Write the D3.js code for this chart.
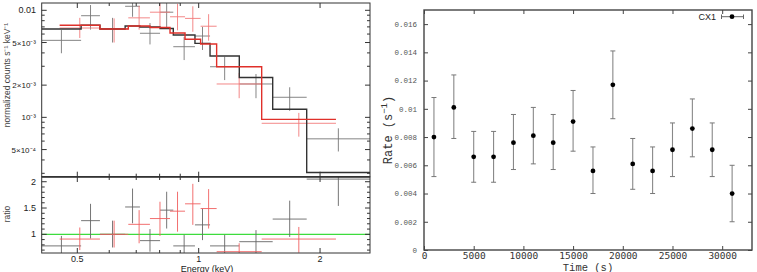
<!DOCTYPE html>
<html>
<head>
  <meta charset="utf-8">
  <script src="https://cdn.jsdelivr.net/npm/d3@7"></script>
  <style>
    body { margin: 0; background: #fff; }
    svg { display: block; }
  </style>
</head>
<body>
<script>
// ---- spectrum data: [E_lo, E_hi, value, lo, hi] ----
const blackSpec = [
  [0.408, 0.511, 0.00524, 0.00397, 0.00654],
  [0.511, 0.569, 0.0089, 0.0066, 0.0112],
  [0.569, 0.657, 0.0067, 0.0050, 0.0085],
  [0.657, 0.715, 0.0109, 0.0087, 0.0135],
  [0.715, 0.802, 0.0061, 0.0048, 0.0076],
  [0.802, 0.865, 0.0096, 0.0067, 0.0125],
  [0.865, 0.979, 0.00457, 0.00343, 0.00562],
  [0.979, 1.067, 0.00575, 0.00426, 0.0070],
  [1.067, 1.261, 0.00297, 0.00223, 0.00368],
  [1.261, 1.526, 0.00205, 0.00151, 0.00254],
  [1.526, 1.853, 0.00154, 0.00115, 0.00191],
  [1.853, 2.66, 0.00063, 0.00048, 0.00079]
];
const blackModel = [0.00669, 0.00724, 0.00669, 0.00713, 0.00698, 0.00676,
  0.00588, 0.00491, 0.00374, 0.00236, 0.00119, 0.000305];
const blackRatio = [
  [0.78, 0.58, 0.97], [1.26, 0.92, 1.58], [1.0, 0.75, 1.26], [1.52, 1.21, 1.87],
  [0.88, 0.67, 1.10], [1.46, 1.11, 1.81], [0.78, 0.60, 0.99], [1.18, 0.89, 1.49],
  [0.78, 0.58, 0.99], [0.86, 0.64, 1.08], [1.29, 0.95, 1.64], [2.05, 1.54, 2.5]
];

const redSpec = [
  [0.452, 0.569, 0.00683, 0.00551, 0.0085],
  [0.569, 0.669, 0.0067, 0.0050, 0.0084],
  [0.669, 0.757, 0.0085, 0.0066, 0.0110],
  [0.757, 0.849, 0.0096, 0.0071, 0.0122],
  [0.849, 0.925, 0.0087, 0.0065, 0.0115],
  [0.925, 1.011, 0.0084, 0.0063, 0.0109],
  [1.011, 1.108, 0.0071, 0.0052, 0.0092],
  [1.108, 1.433, 0.00205, 0.00151, 0.0026],
  [1.433, 2.19, 0.00088, 0.00066, 0.0011]
];
const redModel = [0.00724, 0.00669, 0.00713, 0.0069, 0.00614, 0.00536,
  0.00484, 0.00297, 0.000957];
const redRatio = [
  [0.91, 0.70, 1.13], [1.0, 0.75, 1.26], [1.19, 0.83, 1.46], [1.30, 0.97, 1.62],
  [1.44, 1.05, 1.81], [1.58, 1.18, 1.96], [1.49, 1.11, 1.86], [0.67, 0.50, 0.83],
  [0.91, 0.65, 1.14]
];

const fluxTicks = [[0.01, "0.01"], [0.005, "5×10⁻³"], [0.002, "2×10⁻³"], [0.001, "10⁻³"], [0.0005, "5×10⁻⁴"]];
const ratioTicks = [1, 1.5, 2];
const energyTicks = [0.5, 1, 2];

// ---- light curve data ----
const times = [1000, 3000, 5000, 7000, 9000, 11000, 13000, 15000, 17000, 19000, 21000, 23000, 25000, 27000, 29000, 31000];
const rates = [0.0080, 0.0101, 0.0066, 0.0066, 0.0076, 0.0081, 0.0076, 0.0091, 0.0056, 0.0117, 0.0061, 0.0056, 0.0071, 0.0086, 0.0071, 0.0040];
const rateLo = [0.0052, 0.0079, 0.0048, 0.0048, 0.0057, 0.0061, 0.0057, 0.0070, 0.0040, 0.0093, 0.0043, 0.0040, 0.0052, 0.0066, 0.0052, 0.0020];
const rateHi = [0.0108, 0.0124, 0.0084, 0.0084, 0.0096, 0.0101, 0.0096, 0.0113, 0.0073, 0.0141, 0.0079, 0.0073, 0.0090, 0.0107, 0.0090, 0.0060];
const timeTicks = [0, 5000, 10000, 15000, 20000, 25000, 30000];
const rateTicks = [0, 0.002, 0.004, 0.006, 0.008, 0.01, 0.012, 0.014, 0.016];

const svg = d3.select("body").append("svg").attr("width", 757).attr("height", 272);

// ================= left: spectrum =================
const xE = d3.scaleLog().domain([0.408, 2.66]).range([41.7, 370]);
const yF = d3.scaleLog().domain([2.79e-4, 0.0117]).range([176.7, 3]);
const yR = d3.scaleLinear().domain([0.645, 2.09]).range([253, 177]);

const defs = svg.append("defs");
defs.append("clipPath").attr("id", "clipTop").append("rect")
  .attr("x", 41.7).attr("y", 3).attr("width", 370 - 41.7).attr("height", 176.7 - 3);
defs.append("clipPath").attr("id", "clipBot").append("rect")
  .attr("x", 41.7).attr("y", 177).attr("width", 370 - 41.7).attr("height", 253 - 177);

const gm = (a, b) => Math.sqrt(a * b);

function crosses(g, spec, vals, yS, color) {
  spec.forEach(function (d, i) {
    const v = vals ? vals[i] : [d[2], d[3], d[4]];
    const xc = xE(gm(d[0], d[1]));
    g.append("line").attr("x1", xE(d[0])).attr("x2", xE(d[1]))
      .attr("y1", yS(v[0])).attr("y2", yS(v[0]))
      .attr("stroke", color).attr("stroke-width", 0.9);
    g.append("line").attr("x1", xc).attr("x2", xc)
      .attr("y1", yS(v[1])).attr("y2", yS(v[2]))
      .attr("stroke", color).attr("stroke-width", 0.9);
  });
}

function modelLine(g, spec, model, color) {
  const pts = spec.map((d, i) => [d[0], model[i]]);
  pts.push([spec[spec.length - 1][1], model[model.length - 1]]);
  g.append("path")
    .attr("d", d3.line().x(d => xE(d[0])).y(d => yF(d[1])).curve(d3.curveStepAfter)(pts))
    .attr("fill", "none").attr("stroke", color).attr("stroke-width", 1.4);
}

const gTop = svg.append("g").attr("clip-path", "url(#clipTop)");
crosses(gTop, blackSpec, null, yF, "#777");
crosses(gTop, redSpec, null, yF, "#f27a7a");
modelLine(gTop, blackSpec, blackModel, "#333");
modelLine(gTop, redSpec, redModel, "#e0302a");

const gBot = svg.append("g").attr("clip-path", "url(#clipBot)");
gBot.append("line").attr("x1", 41.7).attr("x2", 370).attr("y1", yR(1)).attr("y2", yR(1))
  .attr("stroke", "#3ddc3d").attr("stroke-width", 1.2);
crosses(gBot, blackSpec, blackRatio, yR, "#666");
crosses(gBot, redSpec, redRatio, yR, "#f06060");

// frames
const frame = svg.append("g").attr("stroke", "#333").attr("fill", "none");
frame.append("rect").attr("x", 41.7).attr("y", 3).attr("width", 370 - 41.7).attr("height", 176.7 - 3).attr("stroke-width", 1);
frame.append("rect").attr("x", 41.7).attr("y", 177).attr("width", 370 - 41.7).attr("height", 253 - 177).attr("stroke-width", 1);
frame.append("line").attr("x1", 41.7).attr("x2", 370).attr("y1", 176.8).attr("y2", 176.8).attr("stroke-width", 1.6);

// energy ticks (all panel edges)
const eMinor = [0.5, 0.6, 0.7, 0.8, 0.9, 1, 2];
const tk = svg.append("g").attr("stroke", "#333").attr("stroke-width", 1);
[3, 176.7, 177, 253].forEach(function (yy, k) {
  const dir = (k % 2 === 0) ? 1 : -1;
  eMinor.forEach(function (e) {
    const len = energyTicks.includes(e) ? 5 : 3;
    tk.append("line").attr("x1", xE(e)).attr("x2", xE(e)).attr("y1", yy).attr("y2", yy + dir * len);
  });
});
// flux ticks
const fMinor = [];
[1e-4, 1e-3, 1e-2].forEach(function (p) {
  for (let m = 1; m < 10; m++) {
    const v = m * p;
    if (v >= 2.79e-4 && v <= 0.0117) fMinor.push(v);
  }
});
fMinor.forEach(function (v) {
  const len = fluxTicks.some(t => Math.abs(t[0] - v) < 1e-9) ? 5 : 3;
  tk.append("line").attr("x1", 41.7).attr("x2", 41.7 + len).attr("y1", yF(v)).attr("y2", yF(v));
  tk.append("line").attr("x1", 370).attr("x2", 370 - len).attr("y1", yF(v)).attr("y2", yF(v));
});
// ratio ticks
d3.range(0.7, 2.09, 0.1).forEach(function (v) {
  const major = ratioTicks.some(t => Math.abs(t - v) < 1e-6);
  const len = major ? 5 : 3;
  tk.append("line").attr("x1", 41.7).attr("x2", 41.7 + len).attr("y1", yR(v)).attr("y2", yR(v));
  tk.append("line").attr("x1", 370).attr("x2", 370 - len).attr("y1", yR(v)).attr("y2", yR(v));
});

const lab = svg.append("g").attr("font-family", "Liberation Sans, Arial, sans-serif").attr("fill", "#222");
fluxTicks.forEach(function (t) {
  lab.append("text").attr("x", 36).attr("y", yF(t[0]) + 3).attr("text-anchor", "end")
    .attr("font-size", t[1] === "0.01" ? 9 : 8).text(t[1]);
});
ratioTicks.forEach(function (t) {
  lab.append("text").attr("x", 36).attr("y", yR(t) + 3).attr("text-anchor", "end")
    .attr("font-size", 9).text(t);
});
energyTicks.forEach(function (t) {
  lab.append("text").attr("x", xE(t)).attr("y", 262).attr("text-anchor", "middle")
    .attr("font-size", 9).text(t);
});
lab.append("text").attr("x", 207).attr("y", 271.5).attr("text-anchor", "middle")
  .attr("font-size", 9).text("Energy (keV)");
lab.append("text").attr("transform", "translate(10,75) rotate(-90)").attr("text-anchor", "middle")
  .attr("font-size", 8.5).attr("fill", "#444").text("normalized counts s⁻¹ keV⁻¹");
lab.append("text").attr("transform", "translate(10,214) rotate(-90)").attr("text-anchor", "middle")
  .attr("font-size", 8.5).attr("fill", "#444").text("ratio");

// ================= right: light curve =================
const xT = d3.scaleLinear().domain([0, 33000]).range([424, 752]);
const yT = d3.scaleLinear().domain([0, 0.017]).range([250, 10]);

const rg = svg.append("g");
rg.append("g").attr("transform", "translate(0,250)")
  .call(d3.axisBottom(xT).tickValues(timeTicks).tickSize(-4).tickPadding(2).tickFormat(d3.format("d")))
  .call(g => g.select(".domain").remove())
  .call(g => g.selectAll("text").attr("font-family", "DejaVu Sans Mono, monospace").attr("font-size", 9.5).attr("fill", "#333"))
  .call(g => g.selectAll("line").attr("stroke", "#444"));
rg.append("g").attr("transform", "translate(0,10)")
  .call(d3.axisTop(xT).tickValues(timeTicks).tickSize(-4).tickFormat(""))
  .call(g => g.select(".domain").remove())
  .call(g => g.selectAll("line").attr("stroke", "#444"));
rg.append("g").attr("transform", "translate(424,0)")
  .call(d3.axisLeft(yT).tickValues(rateTicks).tickSize(-4).tickPadding(7)
    .tickFormat(d => d === 0 ? "0" : String(+d.toFixed(3))))
  .call(g => g.select(".domain").remove())
  .call(g => g.selectAll("text").attr("font-family", "Liberation Mono, monospace").attr("font-size", 7.5).attr("fill", "#555"))
  .call(g => g.selectAll("line").attr("stroke", "#444"));
rg.append("g").attr("transform", "translate(752,0)")
  .call(d3.axisRight(yT).tickValues(rateTicks).tickSize(-4).tickFormat(""))
  .call(g => g.select(".domain").remove())
  .call(g => g.selectAll("line").attr("stroke", "#444"));

rg.append("rect").attr("x", 424).attr("y", 10).attr("width", 752 - 424).attr("height", 240)
  .attr("fill", "none").attr("stroke", "#444").attr("stroke-width", 1.4);

// error bars
const cap = 2.5;
times.forEach(function (t, i) {
  const x = xT(t);
  rg.append("line").attr("x1", x).attr("x2", x).attr("y1", yT(rateLo[i])).attr("y2", yT(rateHi[i]))
    .attr("stroke", "#888").attr("stroke-width", 1.1);
  [rateLo[i], rateHi[i]].forEach(function (v) {
    rg.append("line").attr("x1", x - cap).attr("x2", x + cap).attr("y1", yT(v)).attr("y2", yT(v))
      .attr("stroke", "#777").attr("stroke-width", 1);
  });
});
rg.selectAll("circle.pt").data(times).enter().append("circle").attr("class", "pt")
  .attr("cx", d => xT(d)).attr("cy", (d, i) => yT(rates[i])).attr("r", 2.4).attr("fill", "#000");

// legend
rg.append("text").attr("x", 716).attr("y", 20).attr("text-anchor", "end")
  .attr("font-family", "Liberation Sans, Arial, sans-serif").attr("font-size", 9).attr("fill", "#222").text("CX1");
rg.append("line").attr("x1", 721.5).attr("x2", 743.5).attr("y1", 16.7).attr("y2", 16.7).attr("stroke", "#666");
[721.5, 743.5].forEach(function (x) {
  rg.append("line").attr("x1", x).attr("x2", x).attr("y1", 14.5).attr("y2", 19).attr("stroke", "#666");
});
rg.append("circle").attr("cx", 732).attr("cy", 16.7).attr("r", 2.4).attr("fill", "#000");

// axis titles
const t1 = rg.append("text").attr("transform", "translate(392,130) rotate(-90)").attr("text-anchor", "middle")
  .attr("font-family", "Liberation Mono, Courier New, monospace").attr("font-size", 12).attr("fill", "#333");
t1.append("tspan").text("Rate (s");
t1.append("tspan").attr("dy", -5).attr("font-size", 9).text("−1");
t1.append("tspan").attr("dy", 5).text(")");
rg.append("text").attr("x", 588).attr("y", 270.5).attr("text-anchor", "middle")
  .attr("font-family", "Liberation Mono, Courier New, monospace").attr("font-size", 10.5).attr("fill", "#333")
  .text("Time (s)");
</script>
</body>
</html>
